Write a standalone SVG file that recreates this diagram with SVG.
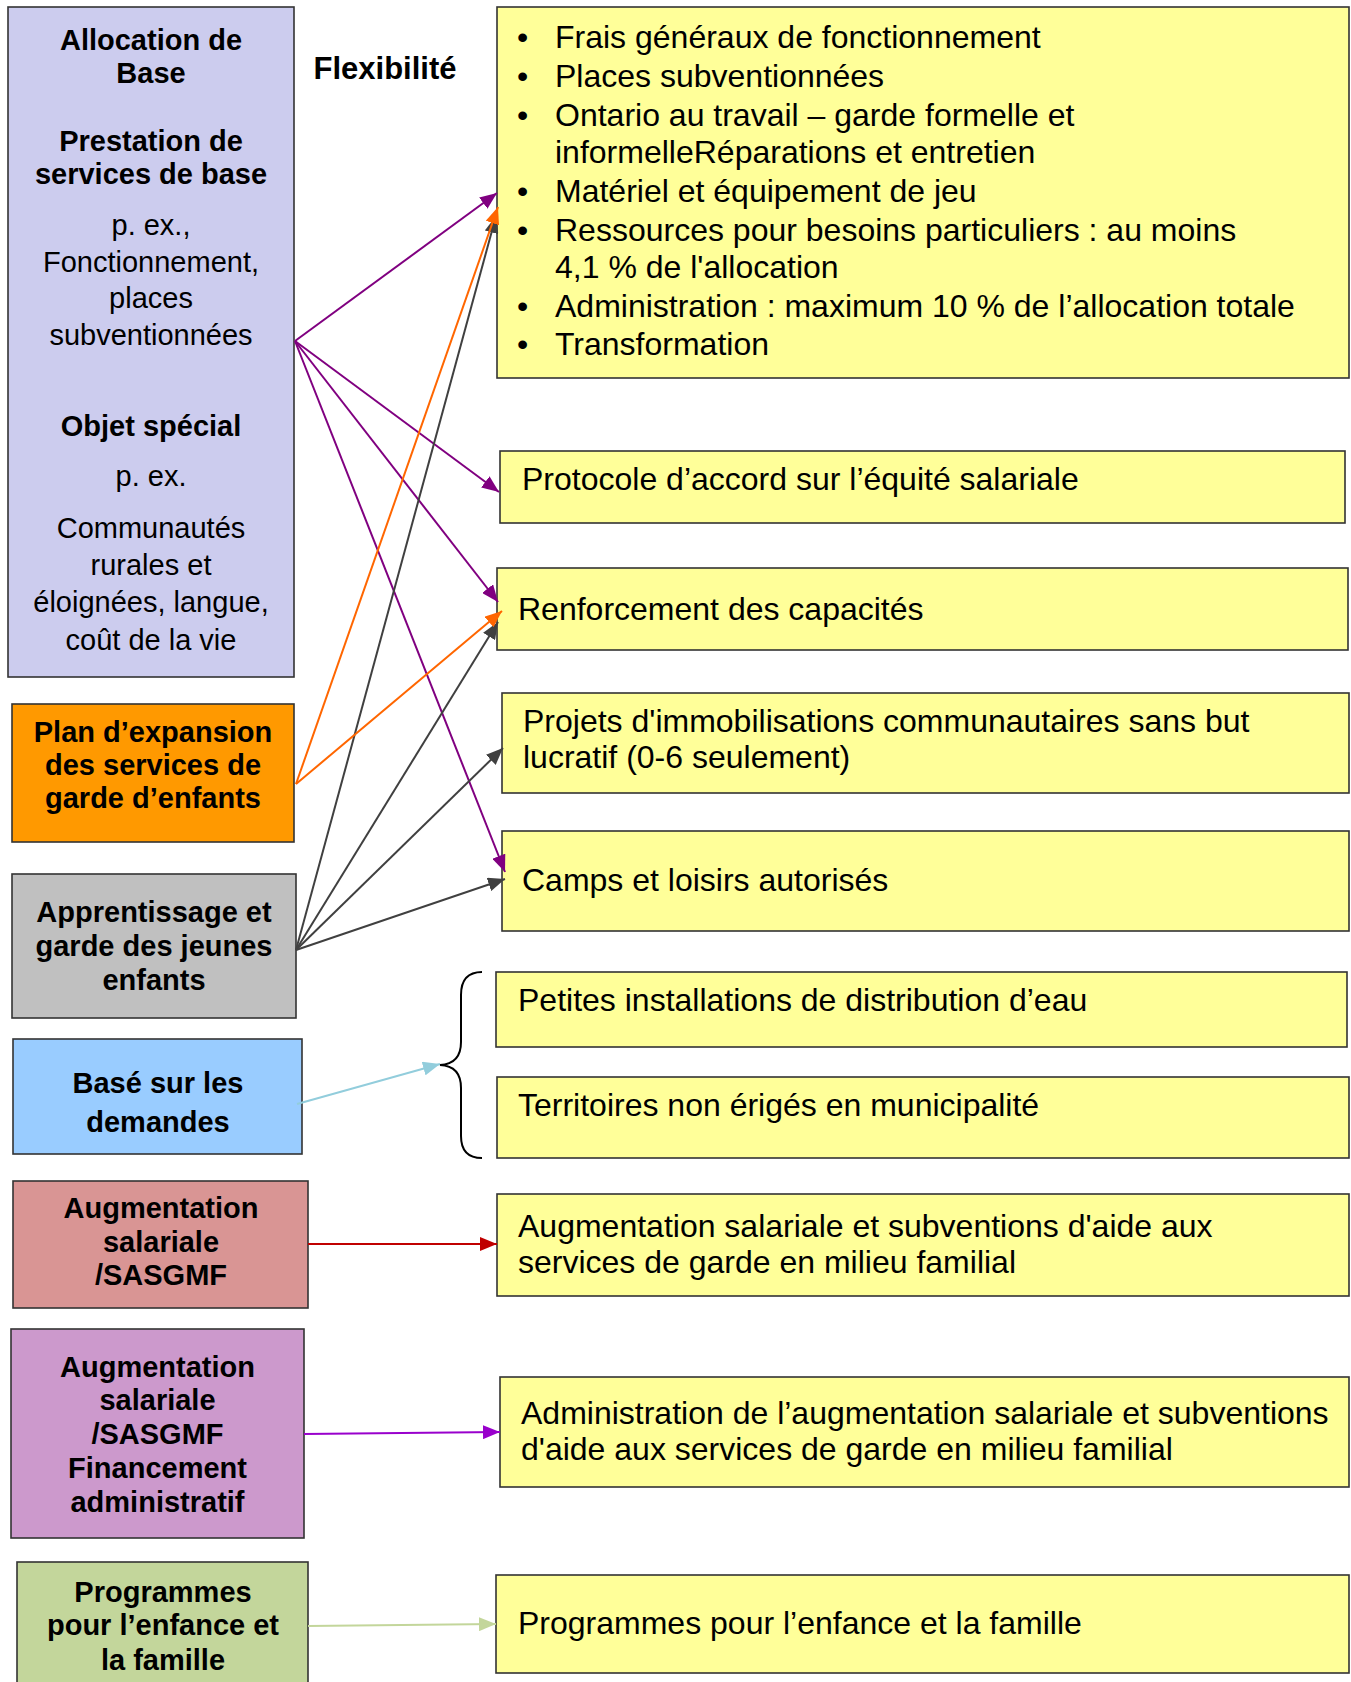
<svg xmlns="http://www.w3.org/2000/svg" width="1351" height="1682" viewBox="0 0 1351 1682">
<style>
.box{stroke:#333;stroke-width:1.6}
.y{fill:#ffff99}
.lb{font-family:"Liberation Sans",Arial,sans-serif;font-size:29px;font-weight:bold;fill:#000;text-anchor:middle}
.ln{font-family:"Liberation Sans",Arial,sans-serif;font-size:29px;fill:#000;text-anchor:middle}
.yt{font-family:"Liberation Sans",Arial,sans-serif;font-size:32px;fill:#000}
.c{fill:none;stroke-width:2}
</style>
<defs>
<marker id="mP" markerUnits="userSpaceOnUse" markerWidth="18" markerHeight="14" refX="17" refY="7" orient="auto"><path d="M0,0 L17,7 L0,14 z" fill="#800080"/></marker>
<marker id="mO" markerUnits="userSpaceOnUse" markerWidth="18" markerHeight="14" refX="17" refY="7" orient="auto"><path d="M0,0 L17,7 L0,14 z" fill="#ff6600"/></marker>
<marker id="mG" markerUnits="userSpaceOnUse" markerWidth="18" markerHeight="14" refX="17" refY="7" orient="auto"><path d="M0,0 L17,7 L0,14 z" fill="#404040"/></marker>
<marker id="mB" markerUnits="userSpaceOnUse" markerWidth="18" markerHeight="14" refX="17" refY="7" orient="auto"><path d="M0,0 L17,7 L0,14 z" fill="#92cddc"/></marker>
<marker id="mR" markerUnits="userSpaceOnUse" markerWidth="18" markerHeight="14" refX="17" refY="7" orient="auto"><path d="M0,0 L17,7 L0,14 z" fill="#c00000"/></marker>
<marker id="mV" markerUnits="userSpaceOnUse" markerWidth="18" markerHeight="14" refX="17" refY="7" orient="auto"><path d="M0,0 L17,7 L0,14 z" fill="#9900cc"/></marker>
<marker id="mL" markerUnits="userSpaceOnUse" markerWidth="18" markerHeight="14" refX="17" refY="7" orient="auto"><path d="M0,0 L17,7 L0,14 z" fill="#c3d69b"/></marker>
</defs>
<rect width="1351" height="1682" fill="#fff"/>

<g id="allocation-base">
<rect class="box" x="8" y="7" width="286" height="670" fill="#ccccee"/>
<text class="lb" x="151" y="50">Allocation de</text>
<text class="lb" x="151" y="83">Base</text>
<text class="lb" x="151" y="151">Prestation de</text>
<text class="lb" x="151" y="184">services de base</text>
<text class="ln" x="151" y="235">p. ex.,</text>
<text class="ln" x="151" y="272">Fonctionnement,</text>
<text class="ln" x="151" y="308">places</text>
<text class="ln" x="151" y="345">subventionnées</text>
<text class="lb" x="151" y="436">Objet spécial</text>
<text class="ln" x="151" y="486">p. ex.</text>
<text class="ln" x="151" y="538">Communautés</text>
<text class="ln" x="151" y="575">rurales et</text>
<text class="ln" x="151" y="612">éloignées, langue,</text>
<text class="ln" x="151" y="650">coût de la vie</text>
</g>

<g id="flexibilite">
<text class="lb" x="385" y="79" style="font-size:31px">Flexibilité</text>
</g>

<g id="plan-expansion">
<rect class="box" x="12" y="704" width="282" height="138" fill="#ff9900"/>
<text class="lb" x="153" y="742">Plan d’expansion</text>
<text class="lb" x="153" y="775">des services de</text>
<text class="lb" x="153" y="808">garde d’enfants</text>
</g>

<g id="apprentissage">
<rect class="box" x="12" y="874" width="284" height="144" fill="#c0c0c0"/>
<text class="lb" x="154" y="922">Apprentissage et</text>
<text class="lb" x="154" y="956">garde des jeunes</text>
<text class="lb" x="154" y="990">enfants</text>
</g>

<g id="base-demandes">
<rect class="box" x="13" y="1039" width="289" height="115" fill="#99ccff"/>
<text class="lb" x="158" y="1093">Basé sur les</text>
<text class="lb" x="158" y="1132">demandes</text>
</g>

<g id="augmentation">
<rect class="box" x="13" y="1181" width="295" height="127" fill="#d99594"/>
<text class="lb" x="161" y="1218">Augmentation</text>
<text class="lb" x="161" y="1252">salariale</text>
<text class="lb" x="161" y="1285">/SASGMF</text>
</g>

<g id="augmentation-admin">
<rect class="box" x="11" y="1329" width="293" height="209" fill="#cc99cc"/>
<text class="lb" x="157.5" y="1377">Augmentation</text>
<text class="lb" x="157.5" y="1410">salariale</text>
<text class="lb" x="157.5" y="1444">/SASGMF</text>
<text class="lb" x="157.5" y="1478">Financement</text>
<text class="lb" x="157.5" y="1512">administratif</text>
</g>

<g id="programmes-enfance">
<rect class="box" x="17" y="1562" width="291" height="140" fill="#c3d69b"/>
<text class="lb" x="163" y="1602">Programmes</text>
<text class="lb" x="163" y="1635">pour l’enfance et</text>
<text class="lb" x="163" y="1670">la famille</text>
</g>

<g id="t-liste">
<rect class="box y" x="497" y="7" width="852" height="371"/>
<text class="yt" x="517" y="48">•</text><text class="yt" x="555" y="48">Frais généraux de fonctionnement</text>
<text class="yt" x="517" y="87">•</text><text class="yt" x="555" y="87">Places subventionnées</text>
<text class="yt" x="517" y="126">•</text><text class="yt" x="555" y="126">Ontario au travail – garde formelle et</text>
<text class="yt" x="555" y="163">informelleRéparations et entretien</text>
<text class="yt" x="517" y="202">•</text><text class="yt" x="555" y="202">Matériel et équipement de jeu</text>
<text class="yt" x="517" y="241">•</text><text class="yt" x="555" y="241">Ressources pour besoins particuliers : au moins</text>
<text class="yt" x="555" y="278">4,1 % de l'allocation</text>
<text class="yt" x="517" y="317">•</text><text class="yt" x="555" y="317">Administration : maximum 10 % de l’allocation totale</text>
<text class="yt" x="517" y="355">•</text><text class="yt" x="555" y="355">Transformation</text>
</g>

<g id="t-protocole">
<rect class="box y" x="500" y="451" width="845" height="72"/>
<text class="yt" x="522" y="490">Protocole d’accord sur l’équité salariale</text>
</g>

<g id="t-renforcement">
<rect class="box y" x="497" y="568" width="851" height="82"/>
<text class="yt" x="518" y="620">Renforcement des capacités</text>
</g>

<g id="t-projets">
<rect class="box y" x="502" y="693" width="847" height="100"/>
<text class="yt" x="523" y="732">Projets d'immobilisations communautaires sans but</text>
<text class="yt" x="523" y="768">lucratif (0-6 seulement)</text>
</g>

<g id="t-camps">
<rect class="box y" x="502" y="831" width="847" height="100"/>
<text class="yt" x="522" y="891">Camps et loisirs autorisés</text>
</g>

<g id="t-eau">
<rect class="box y" x="496" y="972" width="851" height="75"/>
<text class="yt" x="518" y="1011">Petites installations de distribution d’eau</text>
</g>

<g id="t-territoires">
<rect class="box y" x="497" y="1077" width="852" height="81"/>
<text class="yt" x="518" y="1116">Territoires non érigés en municipalité</text>
</g>

<g id="t-augmentation">
<rect class="box y" x="497" y="1194" width="852" height="102"/>
<text class="yt" x="518" y="1237">Augmentation salariale et subventions d'aide aux</text>
<text class="yt" x="518" y="1273">services de garde en milieu familial</text>
</g>

<g id="t-admin">
<rect class="box y" x="500" y="1377" width="849" height="110"/>
<text class="yt" x="521" y="1424">Administration de l’augmentation salariale et subventions</text>
<text class="yt" x="521" y="1460">d'aide aux services de garde en milieu familial</text>
</g>

<g id="t-programmes">
<rect class="box y" x="496" y="1575" width="853" height="98"/>
<text class="yt" x="518" y="1634">Programmes pour l’enfance et la famille</text>
</g>

<g id="connectors">
<line class="c" stroke="#800080" x1="295" y1="341" x2="497" y2="193" marker-end="url(#mP)"/>
<line class="c" stroke="#800080" x1="295" y1="341" x2="499" y2="492" marker-end="url(#mP)"/>
<line class="c" stroke="#800080" x1="295" y1="341" x2="498" y2="602" marker-end="url(#mP)"/>
<line class="c" stroke="#800080" x1="295" y1="341" x2="505" y2="872" marker-end="url(#mP)"/>
<line class="c" stroke="#404040" x1="296" y1="950" x2="496" y2="216" marker-end="url(#mG)"/>
<line class="c" stroke="#404040" x1="296" y1="950" x2="498" y2="622" marker-end="url(#mG)"/>
<line class="c" stroke="#404040" x1="296" y1="950" x2="503" y2="748" marker-end="url(#mG)"/>
<line class="c" stroke="#404040" x1="296" y1="950" x2="505" y2="879" marker-end="url(#mG)"/>
<line class="c" stroke="#ff6600" x1="296" y1="784" x2="498" y2="207" marker-end="url(#mO)"/>
<line class="c" stroke="#ff6600" x1="296" y1="784" x2="502" y2="611" marker-end="url(#mO)"/>
<line class="c" stroke="#92cddc" x1="297" y1="1104" x2="440" y2="1064" marker-end="url(#mB)"/>
<path class="c" stroke="#000" d="M482,972 Q461,972 461,995 L461,1042 Q461,1064 440,1065 Q461,1066 461,1088 L461,1136 Q461,1158 482,1158"/>
<line class="c" stroke="#c00000" x1="308" y1="1244" x2="497" y2="1244" marker-end="url(#mR)"/>
<line class="c" stroke="#9900cc" x1="304" y1="1434" x2="500" y2="1432" marker-end="url(#mV)"/>
<line class="c" stroke="#c3d69b" x1="308" y1="1626" x2="496" y2="1624" marker-end="url(#mL)"/>
</g>
</svg>
